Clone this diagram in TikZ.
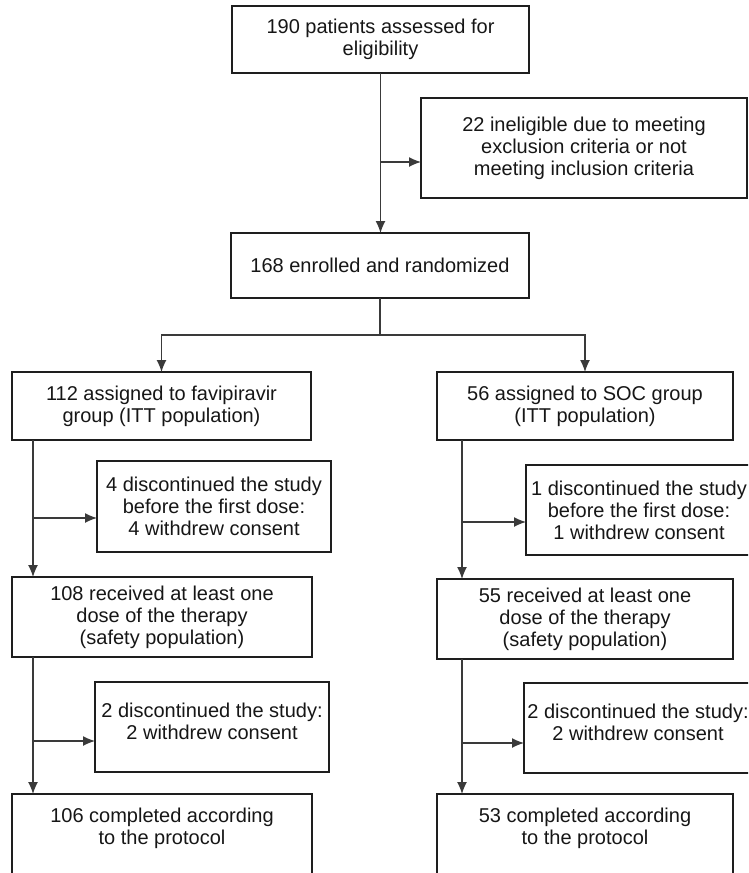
\documentclass[tikz,border=0pt]{standalone}
\usepackage{fontspec}
\setmainfont{Liberation Sans}
\usepackage{tikz}
\usetikzlibrary{arrows.meta}
\definecolor{edge}{HTML}{1E1E1E}
\definecolor{wire}{HTML}{3A3A3A}
\definecolor{ink}{HTML}{161616}

\begin{document}
\begin{tikzpicture}[x=1pt,y=-1pt,
	font=\fontsize{20}{22}\selectfont,
	box/.style={draw=edge,line width=2pt,text=ink,align=center,inner sep=0pt,outer sep=0pt},
	cutbox/.style={text=ink,align=center,inner sep=0pt,outer sep=0pt},
	wire/.style={draw=wire,line width=1.3pt},
	arr/.style={wire,-{Latex[length=12pt,width=10pt]}}]
	\useasboundingbox (0,0) rectangle (748,873);
	\clip (0,0) rectangle (748,873);
	% screening
	\node[box,minimum width=297,minimum height=67] (elig) at (380.5,39.5) {190 patients assessed for\\eligibility};
	\node[box,minimum width=326,minimum height=100] (excl) at (584,148) {22 ineligible due to meeting\\exclusion criteria or not\\meeting inclusion criteria};
	\node[box,minimum width=298,minimum height=65] (rand) at (380,265.5) {168 enrolled and randomized};
	% groups
	\node[box,minimum width=299,minimum height=68] (fav) at (161.5,406) {112 assigned to favipiravir\\group (ITT population)};
	\node[box,minimum width=296,minimum height=68] (soc) at (585,406) {56 assigned to SOC group\\(ITT population)};
	\node[box,minimum width=234,minimum height=91] (exf1) at (214,506.5) {4 discontinued the study\\before the first dose:\\4 withdrew consent};
	\node[box,minimum width=226,minimum height=90] (exs1) at (639,510) {1 discontinued the study\\before the first dose:\\1 withdrew consent};
	\node[box,minimum width=300,minimum height=80] (saf1) at (162,617) {108 received at least one\\dose of the therapy\\(safety population)};
	\node[box,minimum width=296,minimum height=80] (saf2) at (585,619) {55 received at least one\\dose of the therapy\\(safety population)};
	\node[box,minimum width=234,minimum height=90] (exf2) at (212,727) {2 discontinued the study:\\2 withdrew consent\\[-10pt]};
	\node[box,minimum width=228,minimum height=90] (exs2) at (638,728) {2 discontinued the study:\\2 withdrew consent\\[-10pt]};
	\node[cutbox,minimum width=300,minimum height=68] (comp1) at (162,828) {106 completed according\\to the protocol};
	\node[cutbox,minimum width=296,minimum height=68] (comp2) at (585,828) {53 completed according\\to the protocol};
	\foreach \n in {comp1,comp2}
	\draw[edge,line width=2pt] ([yshift=-40pt]\n.south west) -- (\n.north west) -- (\n.north east) -- ([yshift=-40pt]\n.south east);
	% connectors
	\draw[arr] (elig.south) -- (elig.south |- rand.north);
	\coordinate (j1) at (elig.south |- 0,162);
	\draw[arr] (j1) -- (j1 -| excl.west);
	\coordinate (fork) at (rand.south |- 0,335);
	\draw[wire] (rand.south) -- (fork);
	\draw[arr] (fork) -| (fav.north);
	\draw[arr] (fork) -| (soc.north);
	\foreach \a/\b/\c/\dx/\yy in {fav/saf1/exf1/21/518, soc/saf2/exs1/25/522, saf1/comp1/exf2/21/741, saf2/comp2/exs2/25/743}{
		\coordinate (t) at ([xshift=\dx pt]\a.south west);
		\draw[arr] (t) -- (t |- \b.north);
		\coordinate (s) at (t |- 0,\yy);
		\draw[arr] (s) -- (s -| \c.west);
	}
\end{tikzpicture}
\end{document}
